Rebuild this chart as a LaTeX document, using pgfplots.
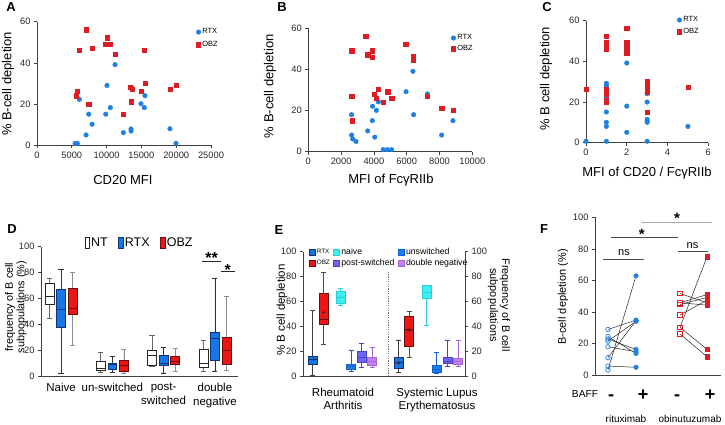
\documentclass[border=0pt]{standalone}
\usepackage{fontspec}
\setmainfont{Liberation Sans}
\usepackage{pgfplots}
\pgfplotsset{compat=1.18}
\usepgfplotslibrary{statistics}

\definecolor{rtx}{RGB}{30,128,226}
\definecolor{obz}{RGB}{222,28,36}
\definecolor{dblue}{RGB}{22,118,232}
\definecolor{dblueD}{RGB}{15,50,120}
\definecolor{dred}{RGB}{235,22,22}
\definecolor{dredD}{RGB}{110,10,10}
\definecolor{ecyan}{RGB}{60,240,240}
\definecolor{ecyanD}{RGB}{40,205,215}
\definecolor{eblue}{RGB}{22,128,240}
\definecolor{eblueD}{RGB}{20,95,200}
\definecolor{epurp}{RGB}{110,100,240}
\definecolor{epurpD}{RGB}{75,65,200}
\definecolor{eviol}{RGB}{200,130,240}
\definecolor{eviolD}{RGB}{165,100,210}

\newcommand\bx[7]{\addplot[#7, boxplot prepared={draw direction=y, draw position=#1, lower whisker=#2, lower quartile=#3, median=#4, upper quartile=#5, upper whisker=#6}] coordinates {};}

\pgfplotsset{
 panel/.style={
  scale only axis, axis lines=left,
  axis line style={-, draw=black!75, line width=0.6pt},
  tick align=outside, major tick length=3pt,
  tick style={draw=black!75, line width=0.6pt},
  enlargelimits=false, clip=false, scaled ticks=false,
  /pgf/number format/1000 sep={},
  /pgf/number format/assume math mode=true,
  tick label style={font=\fontsize{9.3}{10}\selectfont, text=black!85},
  label style={font=\fontsize{13}{15}\selectfont},
 },
 scat/.style={
  legend image code/.code={\draw[##1] plot coordinates {(0pt,0pt)};},
  legend style={draw=none, fill=none, anchor=north west, font=\fontsize{7.5}{8}\selectfont,
   inner sep=0pt, row sep=3pt, nodes={inner sep=1.5pt}},
  legend cell align=left},
 rtxm/.style={only marks, mark=*, mark size=2.3pt, rtx},
 obzm/.style={only marks, mark=square*, mark size=2.1pt, obz},
 bxNT/.style={draw=black!85, fill=white, line width=0.6pt, boxplot/every whisker/.style={draw=black!60}, boxplot/every median/.style={draw=black!85}},
 bxRTX/.style={draw=dblueD, fill=dblue, line width=0.6pt, boxplot/every whisker/.style={draw=black!80}, boxplot/every median/.style={draw=dblueD}},
 bxOBZ/.style={draw=dredD, fill=dred, line width=0.6pt, boxplot/every whisker/.style={draw=black!45}, boxplot/every median/.style={draw=dredD}},
 eRTX/.style={draw=dblueD, fill=dblue, line width=0.6pt, boxplot/every whisker/.style={draw=black!75}, boxplot/every median/.style={draw=dblueD}},
 eOBZ/.style={draw=dredD, fill=dred, line width=0.6pt, boxplot/every whisker/.style={draw=black!70}, boxplot/every median/.style={draw=dredD}},
 eNAI/.style={draw=ecyanD, fill=ecyan, line width=0.6pt, boxplot/every whisker/.style={draw=ecyanD}, boxplot/every median/.style={draw=ecyanD}},
 eUNS/.style={draw=eblueD, fill=eblue, line width=0.6pt, boxplot/every whisker/.style={draw=eblueD}, boxplot/every median/.style={draw=eblueD}},
 ePOS/.style={draw=epurpD, fill=epurp, line width=0.6pt, boxplot/every whisker/.style={draw=epurpD}, boxplot/every median/.style={draw=epurpD}},
 eDNG/.style={draw=eviolD, fill=eviol, line width=0.6pt, boxplot/every whisker/.style={draw=eviolD}, boxplot/every median/.style={draw=eviolD}},
}

\begin{document}
\begin{tikzpicture}
\useasboundingbox (0,0) rectangle (725pt,-425pt);

% ---------------- A ----------------
\begin{axis}[panel, scat, at={(37pt,-145pt)}, anchor=south west, width=174pt, height=123.3pt,
 xmin=0, xmax=25000, ymin=0, ymax=60,
 xtick={0,5000,10000,15000,20000,25000}, ytick={0,20,40,60},
 xlabel={CD20 MFI}, ylabel={\% B-cell depletion},
 xlabel style={at={(axis description cs:0.494,-0.284)}, anchor=center},
 ylabel style={at={(axis description cs:-0.167,0.495)}, anchor=center},
 legend style={at={(axis description cs:0.914,0.957)}}]
\addplot[rtxm] coordinates {(5470,0.8)(5800,0.8)(6090,22.2)(7050,4.9)(7430,15.0)(7910,10.1)(9870,15.0)(10060,29.0)(10540,18.2)(11210,39.1)(12410,6.0)(13510,6.8)(13510,7.8)(13650,27.9)(14940,20.1)(15420,18.2)(15510,24.0)(19100,7.9)(19970,0.8)};
\addlegendentry{RTX}
\addplot[obzm] coordinates {(7050,56.1)(6090,46.1)(7910,47.2)(9870,49.1)(10060,52.2)(10540,49.1)(11210,44.1)(15420,46.1)(5800,26.1)(5600,24.0)(7430,19.9)(12410,14.9)(13360,28.1)(13650,27.1)(13510,21.1)(14940,26.1)(15510,30.2)(19100,27.1)(19970,29.0)};
\addlegendentry{OBZ}
\end{axis}

% ---------------- B ----------------
\begin{axis}[panel, scat, at={(308.3pt,-151.7pt)}, anchor=south west, width=164pt, height=123.4pt,
 xmin=0, xmax=10000, ymin=0, ymax=60,
 xtick={0,2000,4000,6000,8000,10000}, ytick={0,20,40,60},
 xlabel={MFI of FcγRIIb}, ylabel={\% B-cell depletion},
 xlabel style={at={(axis description cs:0.504,-0.229)}, anchor=center},
 ylabel style={at={(axis description cs:-0.234,0.532)}, anchor=center},
 legend style={at={(axis description cs:0.870,0.962)}, row sep=1pt}]
\addplot[rtxm] coordinates {(2640,18.0)(2640,8.1)(2700,6.2)(2910,5.0)(3620,10.1)(3900,15.1)(3920,22.1)(4050,7.1)(4150,20.1)(4270,24.2)(4570,1.0)(4820,1.0)(5080,1.0)(5960,29.2)(6380,39.1)(6420,18.0)(7260,28.1)(8130,8.1)(8820,15.1)};
\addlegendentry{RTX}
\addplot[obzm] coordinates {(3500,56.3)(2640,49.1)(3620,47.2)(3920,49.1)(3920,46.1)(5940,52.2)(6380,44.3)(6420,46.2)(2640,27.1)(2700,15.1)(4030,28.1)(4150,26.1)(4270,30.2)(4570,24.2)(4840,29.2)(5080,26.1)(7260,27.1)(8130,21.1)(8820,20.1)};
\addlegendentry{OBZ}
\end{axis}

% ---------------- C ----------------
\begin{axis}[panel, scat, at={(586pt,-142.7pt)}, anchor=south west, width=122.3pt, height=122pt,
 xmin=0, xmax=6, ymin=0, ymax=60,
 xtick={0,2,4,6}, ytick={0,20,40,60},
 xlabel={MFI of CD20 / FcγRIIb}, ylabel={\% B cell depletion},
 xlabel style={at={(axis description cs:0.499,-0.248)}, anchor=center},
 ylabel style={at={(axis description cs:-0.327,0.526)}, anchor=center},
 legend style={at={(axis description cs:0.744,1.047)}, row sep=2pt}]
\addplot[rtxm] coordinates {(0,0.7)(1,29.2)(1,28.2)(1,27)(1,22.1)(1,15.1)(1,10)(1,8)(1,0.7)(2,39.2)(2,18)(2,5.1)(3,24.1)(3,20)(3,11.5)(3,10.7)(3,10)(3,0.7)(5,8)};
\addlegendentry{RTX}
\addplot[obzm] coordinates {(0,26.2)(1,52.3)(1,49.3)(1,48.4)(1,47.2)(1,46.2)(1,26.2)(1,24.1)(1,21)(1,20)(2,56.2)(2,49.2)(2,46.2)(2,45.2)(2,44.3)(3,30.3)(3,29.2)(3,28.2)(3,27.2)(3,26.2)(3,25)(3,15.1)(5,27.2)};
\addlegendentry{OBZ}
\end{axis}

% ---------------- D ----------------
\begin{axis}[panel, at={(41pt,-376.7pt)}, anchor=south west, width=197pt, height=130pt,
 xmin=0.61, xmax=4.45, ymin=0, ymax=100, ytick={0,20,40,60,80,100},
 xtick={1,2,3,4}, xticklabels={Naive,un-switched,{post-\\switched},{double\\negative}},
 xtick style={draw=none},
 xticklabel style={align=center, font=\fontsize{11.5}{14}\selectfont, text=black},
 ylabel={frequency of B cell\\subpopulations (\%)},
 ylabel style={at={(axis description cs:-0.128,0.535)}, anchor=center, align=center, font=\fontsize{10.8}{11.5}\selectfont},
 boxplot/draw direction=y,
 boxplot/box extend=0.175, boxplot/whisker extend=0.1,
 legend columns=3,
 legend image code/.code={\draw[#1] (0pt,-5.5pt) rectangle (4.5pt,5.5pt);},
 legend style={draw=none, fill=none, at={(axis description cs:0.22,1.085)}, anchor=north west,
  font=\fontsize{12.5}{13}\selectfont, inner sep=0pt, nodes={inner sep=1.5pt},
  /tikz/every even column/.append style={column sep=9pt}}]
\addlegendimage{draw=black!85, fill=white, line width=0.6pt}\addlegendentry{NT}
\addlegendimage{draw=dblueD, fill=dblue, line width=0.6pt}\addlegendentry{RTX}
\addlegendimage{draw=dredD, fill=dred, line width=0.6pt}\addlegendentry{OBZ}
\bx{0.774}{45}{55.6}{61.5}{72}{76}{bxNT}
\bx{1}{3}{38}{52}{67}{83}{bxRTX}
\bx{1.226}{24}{48}{52.5}{68}{80}{bxOBZ}
\bx{1.774}{3.6}{5}{6.4}{11.5}{18.7}{bxNT}
\bx{2}{3.6}{6}{9.7}{10.3}{15.4}{bxRTX}
\bx{2.226}{2.6}{4.4}{9}{13}{20.8}{bxOBZ}
\bx{2.774}{7.7}{8.7}{16.7}{20}{31.5}{bxNT}
\bx{3}{3}{8.5}{10.3}{16.7}{22.8}{bxRTX}
\bx{3.226}{3.8}{9.5}{12}{15.4}{22}{bxOBZ}
\bx{3.774}{3.8}{7}{10.3}{21}{27.7}{bxNT}
\bx{4}{4.4}{12.6}{29.5}{34}{76}{bxRTX}
\bx{4.226}{5.1}{9.2}{20.5}{30.3}{62}{bxOBZ}
\draw[black!85, line width=0.7pt] (axis cs:3.749,89) -- (axis cs:4.119,89);
\node[anchor=base, font=\fontsize{16}{16}\bfseries, inner sep=0pt] at (axis cs:3.934,86.7) {**};
\draw[black!85, line width=0.7pt] (axis cs:4.119,81.3) -- (axis cs:4.392,81.3);
\node[anchor=base, font=\fontsize{16}{16}\bfseries, inner sep=0pt] at (axis cs:4.249,78.2) {*};
\end{axis}

% ---------------- E ----------------
\begin{axis}[panel, at={(303pt,-376pt)}, anchor=south west, width=162pt, height=124.3pt,
 xmin=303, xmax=465, ymin=0, ymax=100, ytick={0,20,40,60,80,100},
 axis y line*=left, axis x line*=bottom,
 xtick={343,437}, xticklabels={{Rheumatoid\\Arthritis},{Systemic Lupus\\Erythematosus}},
 xtick style={draw=none},
 xticklabel style={align=center, font=\fontsize{11.5}{12.5}\selectfont, text=black, yshift=-6pt},
 ylabel={\% B cell depletion},
 ylabel style={at={(axis description cs:-0.13,0.531)}, anchor=center, font=\fontsize{11.5}{13}\selectfont},
 boxplot/draw direction=y,
 boxplot/box extend=9, boxplot/whisker extend=5,
 legend columns=3,
 legend image code/.code={\draw[#1] (0pt,-3pt) rectangle (6pt,3pt);},
 legend style={draw=none, fill=none, at={(axis description cs:0.035,1.04)}, anchor=north west,
  inner sep=0pt, row sep=0pt, nodes={inner sep=1.5pt}, font=\fontsize{8.7}{9}\selectfont,
  /tikz/every even column/.append style={column sep=2pt}},
 legend cell align=left]
\addlegendimage{draw=dblueD, fill=dblue, line width=0.5pt}\addlegendentry{\fontsize{6.3}{7}\selectfont RTX}
\addlegendimage{draw=ecyanD, fill=ecyan, line width=0.5pt}\addlegendentry{naive}
\addlegendimage{draw=eblueD, fill=eblue, line width=0.5pt}\addlegendentry{unswitched}
\addlegendimage{draw=dredD, fill=dred, line width=0.5pt}\addlegendentry{\fontsize{6.3}{7}\selectfont OBZ}
\addlegendimage{draw=epurpD, fill=epurp, line width=0.5pt}\addlegendentry{post-switched}
\addlegendimage{draw=eviolD, fill=eviol, line width=0.5pt}\addlegendentry{double negative}
\bx{312.7}{0.8}{9.7}{13.7}{15.5}{52.5}{eRTX}
\bx{323.3}{25.7}{41.3}{45.8}{66.5}{83.4}{eOBZ}
\bx{340.3}{57}{58.7}{63}{67.8}{70.5}{eNAI}
\bx{351}{4}{5.4}{7.5}{9.7}{21}{eUNS}
\bx{361.7}{6.7}{10.7}{15}{20}{26}{ePOS}
\bx{372}{7}{8.8}{12}{15}{23}{eDNG}
\bx{398.3}{3}{6.2}{10.7}{15}{29}{eRTX}
\bx{409}{15}{24}{37.5}{47.7}{51.7}{eOBZ}
\bx{426.7}{40.5}{62.5}{67}{72.6}{72.6}{eNAI}
\bx{436.7}{2}{2.7}{5}{8.3}{18.8}{eUNS}
\bx{447.7}{7.5}{10.2}{12}{15}{29}{ePOS}
\bx{458}{8}{9.4}{11.5}{14.2}{28.4}{eDNG}
\addplot[only marks, mark=+, mark size=1.8pt, black!80] coordinates {(312.7,13.2)(323.3,51.7)(398.3,10.7)(409,37)};
\draw[black!55, dash pattern=on 1.2pt off 1.2pt, line width=0.6pt] (axis cs:388,0) -- (axis cs:388,84);
\end{axis}
\begin{axis}[panel, at={(303pt,-376pt)}, anchor=south west, width=162pt, height=124.3pt,
 xmin=303, xmax=465, ymin=0, ymax=100, ytick={0,20,40,60,80,100},
 axis y line*=right, axis x line=none,
 ylabel={Frequency of B cell\\subpopulations},
 every axis y label/.style={at={(axis description cs:1.21,0.571)}, anchor=center, rotate=-90, align=center, font=\fontsize{10.9}{12}\selectfont}]
\end{axis}

% ---------------- F ----------------
\begin{axis}[panel, at={(595pt,-375pt)}, anchor=south west, width=126pt, height=157.7pt,
 xmin=595, xmax=721, ymin=0, ymax=100, ytick={0,20,40,60,80,100},
 xtick={611,643,677,710}, xticklabels={-,+,-,+}, xtick style={draw=none},
 xticklabel style={anchor=base, yshift=-22pt, font=\fontsize{18}{18}\bfseries, text=black},
 ylabel={B-cell depletion (\%)},
 ylabel style={at={(axis description cs:-0.254,0.495)}, anchor=center, font=\fontsize{11}{12}\selectfont}]
\addplot[black!85, line width=0.5pt] coordinates {(608,28.9)(636,34.8)};
\addplot[black!85, line width=0.5pt] coordinates {(608,24.3)(636,13.7)};
\addplot[black!85, line width=0.5pt] coordinates {(608,22.8)(636,16.2)};
\addplot[black!85, line width=0.5pt] coordinates {(608,21.5)(636,34.0)};
\addplot[black!85, line width=0.5pt] coordinates {(608,17.9)(636,14.8)};
\addplot[black!85, line width=0.5pt] coordinates {(608,11.0)(636,34.5)};
\addplot[black!85, line width=0.5pt] coordinates {(608,5.7)(636,4.9)};
\addplot[black!85, line width=0.5pt] coordinates {(608,3.2)(636,62.9)};
\addplot[black!85, line width=0.5pt] coordinates {(680,51.7)(707,45.8)};
\addplot[black!85, line width=0.5pt] coordinates {(680,45.8)(707,51.0)};
\addplot[black!85, line width=0.5pt] coordinates {(680,44.7)(707,49.2)};
\addplot[black!85, line width=0.5pt] coordinates {(680,38.0)(707,47.5)};
\addplot[black!85, line width=0.5pt] coordinates {(680,45.8)(707,44.3)};
\addplot[black!85, line width=0.5pt] coordinates {(680,30.2)(707,74.9)};
\addplot[black!85, line width=0.5pt] coordinates {(680,30.2)(707,16.3)};
\addplot[black!85, line width=0.5pt] coordinates {(680,26.0)(707,11.6)};
\addplot[only marks, mark=o, mark size=2.3pt, mark options={draw=rtx, fill=white, line width=0.7pt}] coordinates {(608,28.9)(608,24.3)(608,22.8)(608,21.5)(608,17.9)(608,11.0)(608,5.7)(608,3.2)};
\addplot[only marks, mark=*, mark size=2.3pt, rtx] coordinates {(636,34.8)(636,13.7)(636,16.2)(636,34.0)(636,14.8)(636,34.5)(636,4.9)(636,62.9)};
\addplot[only marks, mark=square, mark size=2.3pt, mark options={draw=obz, fill=white, line width=0.7pt}] coordinates {(680,51.7)(680,45.8)(680,44.7)(680,38.0)(680,30.2)(680,26.0)};
\addplot[only marks, mark=square*, mark size=2.3pt, obz] coordinates {(707,45.8)(707,51.0)(707,49.2)(707,47.5)(707,44.3)(707,74.9)(707,16.3)(707,11.6)};
\draw[black!70, line width=0.7pt] (axis cs:603,73.4) -- (axis cs:644,73.4);
\node[font=\fontsize{11}{12}\selectfont] at (axis cs:624,77.4) {ns};
\draw[black!70, line width=0.7pt] (axis cs:678,78.5) -- (axis cs:708,78.5);
\node[font=\fontsize{11}{12}\selectfont] at (axis cs:692.5,82.3) {ns};
\draw[black!70, line width=0.7pt] (axis cs:611,87.1) -- (axis cs:678,87.1);
\node[anchor=base, font=\fontsize{15}{15}\bfseries, inner sep=0pt] at (axis cs:641.7,86) {*};
\draw[black!35, line width=0.8pt] (axis cs:642,97) -- (axis cs:712,97);
\node[anchor=base, font=\fontsize{15}{15}\bfseries, inner sep=0pt] at (axis cs:677,96.3) {*};
\end{axis}

\node[font=\fontsize{10.2}{11}\selectfont] at (585pt,-394pt) {BAFF};
\node[font=\fontsize{10}{11}\selectfont] at (626pt,-419pt) {rituximab};
\node[font=\fontsize{10}{11}\selectfont] at (690pt,-419pt) {obinutuzumab};

\node[font=\fontsize{13}{13}\bfseries] at (11pt,-7pt) {A};
\node[font=\fontsize{13}{13}\bfseries] at (282pt,-7pt) {B};
\node[font=\fontsize{13}{13}\bfseries] at (547pt,-7pt) {C};
\node[font=\fontsize{13}{13}\bfseries] at (12pt,-229pt) {D};
\node[font=\fontsize{13}{13}\bfseries] at (279pt,-230pt) {E};
\node[font=\fontsize{13}{13}\bfseries] at (544pt,-229pt) {F};
\end{tikzpicture}
\end{document}
